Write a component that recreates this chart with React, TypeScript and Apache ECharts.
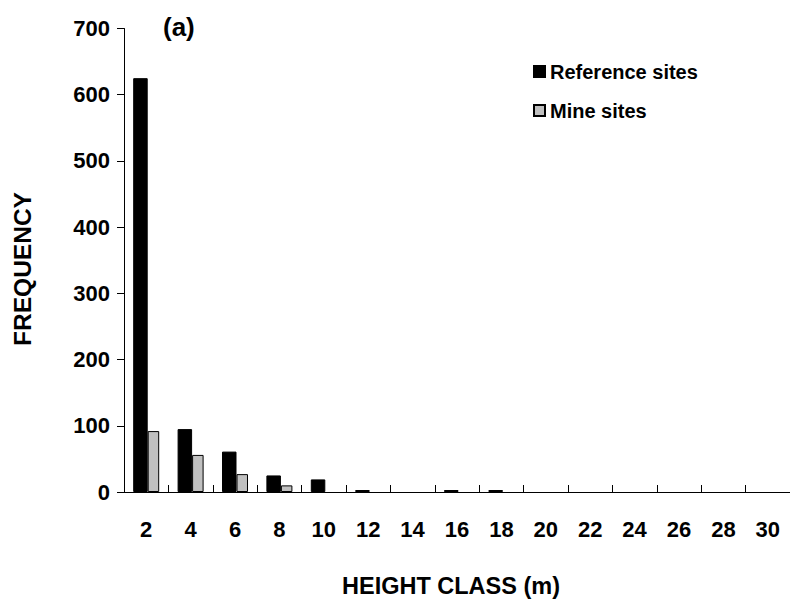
import React, { useEffect, useRef } from "react";
import * as echarts from "echarts";

// Height classes (m) and tree counts per class
const heightClasses = ["2", "4", "6", "8", "10", "12", "14", "16", "18", "20", "22", "24", "26", "28", "30"];
const referenceSites = [625, 95, 61, 25, 19, 3, 0, 3, 3, 0, 0, 0, 0, 0, 0];
const mineSites = [92, 56, 27, 10, 0, 0, 0, 0, 0, 0, 0, 0, 0, 0, 0];
const frequencyTicks = { min: 0, max: 700, interval: 100 };

const FONT = "'Liberation Sans', Arial, sans-serif";

// empty classes get no bar at all (avoids a stray border line on the axis)
const toBars = (values: number[]) => values.map((v) => (v === 0 ? null : v));

export default function App() {
  const ref = useRef<HTMLDivElement>(null);

  useEffect(() => {
    if (!ref.current) return;
    const chart = echarts.init(ref.current, undefined, { renderer: "svg" });
    chart.setOption({
      animation: false,
      backgroundColor: "#ffffff",
      textStyle: { fontFamily: FONT },
      grid: { left: 124, right: 0, top: 28.5, bottom: 111, containLabel: false },
      legend: {
        orient: "vertical",
        left: 533,
        top: 61.5,
        padding: 0,
        itemWidth: 11,
        itemHeight: 11,
        itemGap: 19,
        icon: "rect",
        textStyle: { fontFamily: FONT, fontWeight: "bold", fontSize: 20, lineHeight: 20, color: "#000" },
        data: ["Reference sites", "Mine sites"],
      },
      graphic: [
        {
          type: "text",
          x: 163,
          y: 27,
          style: {
            text: "(a)",
            fontFamily: FONT,
            fontWeight: "bold",
            fontSize: 26,
            fill: "#000",
            textAlign: "left",
            textVerticalAlign: "middle",
          },
        },
        {
          type: "text",
          x: 22,
          y: 269,
          rotation: Math.PI / 2,
          style: {
            text: "FREQUENCY",
            fontFamily: FONT,
            fontWeight: "bold",
            fontSize: 24.5,
            fill: "#000",
            textAlign: "center",
            textVerticalAlign: "middle",
          },
        },
        {
          type: "text",
          x: 451,
          y: 586,
          style: {
            text: "HEIGHT CLASS (m)",
            fontFamily: FONT,
            fontWeight: "bold",
            fontSize: 23.5,
            fill: "#000",
            textAlign: "center",
            textVerticalAlign: "middle",
          },
        },
      ],
      xAxis: {
        type: "category",
        data: heightClasses,
        boundaryGap: true,
        axisLine: { show: true, lineStyle: { color: "#000", width: 1 } },
        axisTick: { show: true, inside: true, length: 7, alignWithLabel: false, lineStyle: { color: "#000" } },
        axisLabel: { margin: 26, fontFamily: FONT, fontWeight: "bold", fontSize: 22, color: "#000", interval: 0 },
        splitLine: { show: false },
      },
      yAxis: {
        type: "value",
        min: frequencyTicks.min,
        max: frequencyTicks.max,
        interval: frequencyTicks.interval,
        axisLine: { show: true, lineStyle: { color: "#000", width: 1 } },
        axisTick: { show: true, inside: false, length: 7, lineStyle: { color: "#000" } },
        axisLabel: { margin: 14, fontFamily: FONT, fontWeight: "bold", fontSize: 22, color: "#000" },
        splitLine: { show: false },
      },
      series: [
        {
          name: "Reference sites",
          type: "bar",
          data: toBars(referenceSites),
          barWidth: 14.5,
          barGap: 0,
          itemStyle: { color: "#000000", borderColor: "#000", borderWidth: 1 },
        },
        {
          name: "Mine sites",
          type: "bar",
          data: toBars(mineSites),
          barWidth: 11.5,
          barGap: 0,
          itemStyle: { color: "#c0c0c0", borderColor: "#000", borderWidth: 1 },
        },
      ],
    });
    return () => chart.dispose();
  }, []);

  return (
    <div
      ref={ref}
      style={{ position: "absolute", left: 0, top: 0, width: 790, height: 603, background: "#fff" }}
    />
  );
}
